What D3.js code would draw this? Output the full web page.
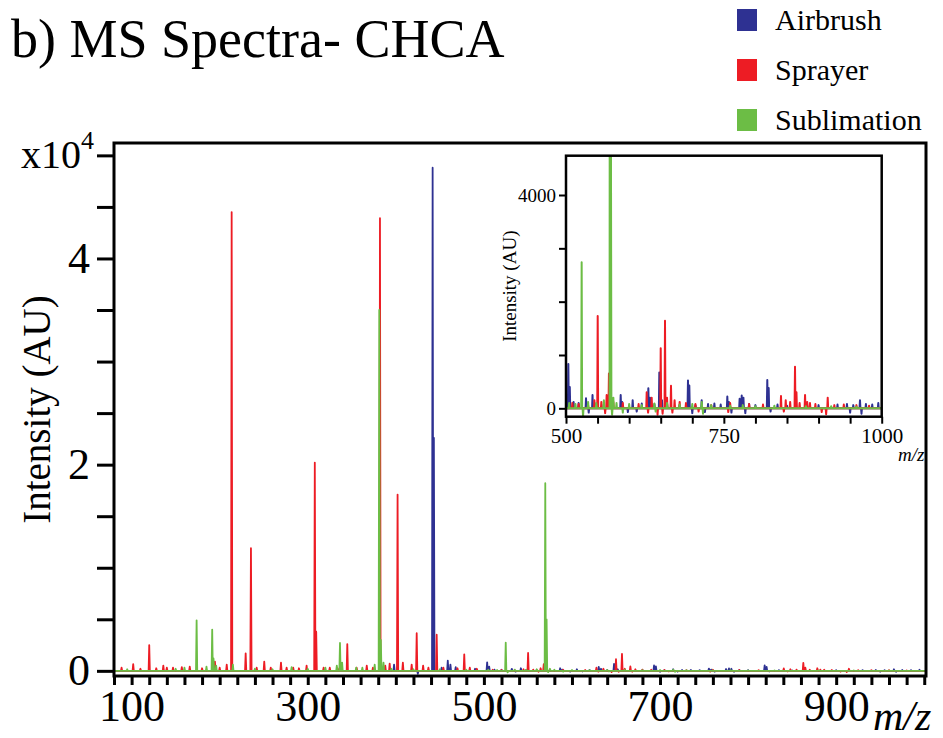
<!DOCTYPE html>
<html>
<head>
<meta charset="utf-8">
<script src="https://cdn.jsdelivr.net/npm/d3@7"></script>
<style>
  body { margin: 0; background: #fff; }
  svg { display: block; font-family: "Liberation Serif", "Times New Roman", serif; }
</style>
</head>
<body>
<div id="container"></div>
<script>
/* DATA - peaks, [m/z, intensity (AU)] */
const seriesNames = ["Airbrush", "Sprayer", "Sublimation"];

const airbrushPeaks = [
  [398, 600], [402, 350], [425, -300], [441.8, 48800], [443.2, 22600], [452, 300],
  [459, 1000], [462, 600], [468, 350], [490, 200], [503.7, 830], [506, 400], [512, 120],
  [520, 100], [531.7, 190], [536, -80], [542, 250], [548, 90], [560, 80], [572, 60],
  [586.6, 250], [589, 120], [598, -70], [605.6, 150], [612, -60], [620, 90], [630.4, 375],
  [633, 200], [640, 80], [647.8, 670], [652, 150], [660, 100], [680, 60], [693.2, 520],
  [695.3, 430], [700, -90], [705, 60], [714.9, 150], [720, -70], [725, 80], [735, 90],
  [745, 70], [755.5, 220], [758, 120], [762, -80], [775, 180], [778.3, 240], [781, 200],
  [784, -90], [790, 80], [800, 60], [818.8, 530], [821, 380], [824, -60], [835, 70],
  [850, 50], [900, 60], [930, 70], [945, 80], [950, -80], [955, 60], [965.6, 150],
  [968, -100], [975, 80], [985, 70], [994.6, 100]
];

const sprayerPeaks = [
  [88.6, 300], [101.8, 650], [110, 200], [120, 2500], [128, 250], [136, 500], [140, 300],
  [147, 300], [157, 350], [166, 400], [180, 250], [194.6, 900], [200, 300], [208, 600],
  [213.6, 44500], [229.5, 1700], [235.5, 11900], [242, 300], [250.6, 900], [258, 300],
  [269.6, 800], [276, 300], [283.5, 300], [290, 250], [298.7, 500], [308, 20200],
  [309.6, 3800], [318, 300], [325, 300], [334, 250], [344.9, 2600], [355.5, 300],
  [367, 500], [374, 300], [382, 43900], [388, 500], [393, 700], [402, 17100], [408, 800],
  [418, 600], [423.7, 3650], [431, 500], [437, 300], [446.4, 3500], [454, 300], [470, 250],
  [477.7, 1600], [484, 300], [492, 200], [510, 100], [520, 80], [535, 60], [545, 150],
  [550.2, 1730], [556, 120], [562, -90], [564.4, 250], [568, 655], [575, 120], [590, 100],
  [615, 80], [627.8, 300], [630, -80], [635.7, 200], [645, -120], [650, 1125], [653, -100],
  [656.8, 1643], [660, 200], [666.3, 425], [668.5, -80], [672, 150], [680, 120], [690, 100],
  [705, 80], [710, -60], [730, 60], [757, -70], [760, 100], [790, 80], [812, 70],
  [840.5, 230], [845, -60], [848, 150], [855, 120], [862.7, 780], [865, 300], [870, 100],
  [878.6, 250], [882, 120], [886.4, 100], [895, 80], [905, -70], [912, -110], [914.5, 200],
  [925, 60], [940, 70], [960, 60], [980, 50]
];

const sublimationPeaks = [
  [95, 150], [150, 200], [160, 300], [173.8, 4900], [185, 400], [191.5, 4000], [193, 1200],
  [196, 500], [215, 600], [240, 200], [260, 150], [281.7, 350], [300, 200], [320, 300],
  [333, 500], [336.6, 2700], [339, 800], [355, 300], [362, 300], [376, 600], [381.2, 35000],
  [383, 3000], [386, 800], [395, 200], [420, 150], [450, 150], [480, 100], [505, 100],
  [515, 80], [524.8, 2737], [527, -150], [535, 120], [548, 100], [560, 150], [569.7, 18200],
  [571.2, 5000], [573, -120], [575, 200], [580, 100], [590, -80], [600, 80], [620, 60],
  [640, 90], [642, -60], [660, 100], [680, 70], [700, 80], [715, 120], [717, -100],
  [730, 60], [760, 50], [780, 60], [800, 40], [830, 50], [880, 40], [920, 40], [960, 30]
];

// axis ticks & labels
const mainXTicks = d3.range(80, 1001, 20);
const mainXLabels = [100, 300, 500, 700, 900];
const mainYTicks = d3.range(0, 50001, 5000);
const mainYLabels = {0: "0", 20000: "2", 40000: "4"};
const insetXTicks = d3.range(500, 1001, 50);
const insetXLabels = [500, 750, 1000];
const insetYTicks = [0, 1000, 2000, 3000, 4000];
const insetYLabels = [0, 4000];

/* LAYOUT */
const width = 943, height = 738;
const colors = {Airbrush: "#2e3192", Sprayer: "#ed1c24", Sublimation: "#6cbd45"};
const peakHalfWidth = 0.7;
const allPeaks = {Airbrush: airbrushPeaks, Sprayer: sprayerPeaks, Sublimation: sublimationPeaks};

const svg = d3.select("#container").append("svg")
  .attr("width", width)
  .attr("height", height);

svg.append("rect").attr("width", width).attr("height", height).attr("fill", "#fff");

// turn peak list into a profile line
function profile(peaks, lo, hi) {
  const pts = [[lo, 0]];
  peaks.slice().sort((a, b) => a[0] - b[0]).forEach(([mz, v]) => {
    pts.push([mz - peakHalfWidth, 0], [mz, v], [mz + peakHalfWidth, 0]);
  });
  pts.push([hi, 0]);
  return pts;
}

/* MAIN PLOT */
const x = d3.scaleLinear().domain([80, 1002]).range([114, 926]);
const y = d3.scaleLinear().domain([-500, 51200]).range([676, 143]);

svg.append("clipPath").attr("id", "clipMain")
  .append("rect").attr("x", 114).attr("y", 143).attr("width", 812).attr("height", 533);

const mainLine = d3.line().x(d => x(d[0])).y(d => y(d[1]));

svg.append("g").attr("clip-path", "url(#clipMain)")
  .selectAll("path")
  .data(seriesNames)
  .join("path")
  .attr("fill", "none")
  .attr("stroke", d => colors[d])
  .attr("stroke-width", 1.8)
  .attr("stroke-linejoin", "round")
  .attr("d", d => mainLine(profile(allPeaks[d], 80, 1002)));

svg.append("rect")
  .attr("x", 114).attr("y", 143).attr("width", 812).attr("height", 533)
  .attr("fill", "none").attr("stroke", "#000").attr("stroke-width", 3);

const yAxisG = svg.append("g")
  .attr("transform", "translate(114,0)")
  .call(d3.axisLeft(y).tickValues(mainYTicks).tickSize(17).tickPadding(7)
    .tickFormat(d => mainYLabels[d] || ""));
yAxisG.select(".domain").remove();
yAxisG.selectAll(".tick line").attr("stroke-width", 3);
yAxisG.selectAll(".tick text")
  .attr("font-family", "Liberation Serif").attr("font-size", 44).attr("fill", "#000");

const xAxisG = svg.append("g")
  .attr("transform", "translate(0,676)")
  .call(d3.axisBottom(x).tickValues(mainXTicks).tickSize(9)
    .tickFormat(d => mainXLabels.includes(d) ? d : ""));
xAxisG.select(".domain").remove();
xAxisG.selectAll(".tick line").attr("stroke-width", 3);
xAxisG.selectAll(".tick text")
  .attr("font-family", "Liberation Serif").attr("font-size", 44).attr("fill", "#000")
  .attr("y", 45).attr("dy", null);

// x10^4 at top tick
const expo = svg.append("text")
  .attr("x", 94).attr("y", y(50000) + 13)
  .attr("text-anchor", "end")
  .attr("font-size", 40);
expo.append("tspan").text("x10");
expo.append("tspan").attr("font-size", 26).attr("dy", -19).text("4");

svg.append("text")
  .attr("transform", `translate(50,${(143 + 676) / 2}) rotate(-90)`)
  .attr("text-anchor", "middle")
  .attr("font-size", 39)
  .text("Intensity (AU)");

svg.append("text")
  .attr("x", 873).attr("y", 730)
  .attr("font-size", 42).attr("font-style", "italic")
  .text("m/z");

/* INSET */
const xi = d3.scaleLinear().domain([500, 1000]).range([566, 881.7]);
const yi = d3.scaleLinear().domain([-157, 4737]).range([416.7, 155.7]);

svg.append("rect")
  .attr("x", 566).attr("y", 155.7).attr("width", 315.7).attr("height", 261)
  .attr("fill", "#fff");

svg.append("clipPath").attr("id", "clipInset")
  .append("rect").attr("x", 566).attr("y", 155.7).attr("width", 315.7).attr("height", 261);

const insetLine = d3.line().x(d => xi(d[0])).y(d => yi(d[1]));

svg.append("g").attr("clip-path", "url(#clipInset)")
  .selectAll("path")
  .data(seriesNames)
  .join("path")
  .attr("fill", "none")
  .attr("stroke", d => colors[d])
  .attr("stroke-width", 2)
  .attr("stroke-linejoin", "round")
  .attr("d", d => insetLine(profile(allPeaks[d].filter(p => p[0] > 495), 495, 1005)));

svg.append("rect")
  .attr("x", 566).attr("y", 155.7).attr("width", 315.7).attr("height", 261)
  .attr("fill", "none").attr("stroke", "#000").attr("stroke-width", 2.5);

const yiAxisG = svg.append("g")
  .attr("transform", "translate(566,0)")
  .call(d3.axisLeft(yi).tickValues(insetYTicks).tickSize(7).tickPadding(3)
    .tickFormat(d => insetYLabels.includes(d) ? d : ""));
yiAxisG.select(".domain").remove();
yiAxisG.selectAll(".tick line").attr("stroke-width", 2);
yiAxisG.selectAll(".tick text")
  .attr("font-family", "Liberation Serif").attr("font-size", 19).attr("fill", "#000");

const xiAxisG = svg.append("g")
  .attr("transform", "translate(0,416.7)")
  .call(d3.axisBottom(xi).tickValues(insetXTicks).tickSize(7)
    .tickFormat(d => insetXLabels.includes(d) ? d : ""));
xiAxisG.select(".domain").remove();
xiAxisG.selectAll(".tick line").attr("stroke-width", 2);
xiAxisG.selectAll(".tick text")
  .attr("font-family", "Liberation Serif").attr("font-size", 21).attr("fill", "#000")
  .attr("y", 26).attr("dy", null);

svg.append("text")
  .attr("transform", `translate(516,${(155.7 + 416.7) / 2}) rotate(-90)`)
  .attr("text-anchor", "middle")
  .attr("font-size", 19)
  .text("Intensity (AU)");

svg.append("text")
  .attr("x", 898).attr("y", 461)
  .attr("font-size", 19).attr("font-style", "italic")
  .text("m/z");

/* TITLE + LEGEND */
svg.append("text")
  .attr("x", 11).attr("y", 57)
  .attr("font-size", 54)
  .text("b) MS Spectra- CHCA");

const legend = svg.append("g")
  .selectAll("g")
  .data(seriesNames)
  .join("g")
  .attr("transform", (d, i) => `translate(737,${9 + i * 50})`);

legend.append("rect")
  .attr("width", 20).attr("height", 22)
  .attr("fill", d => colors[d]);

legend.append("text")
  .attr("x", 38).attr("y", 21)
  .attr("font-size", 30)
  .text(d => d);
</script>
</body>
</html>
